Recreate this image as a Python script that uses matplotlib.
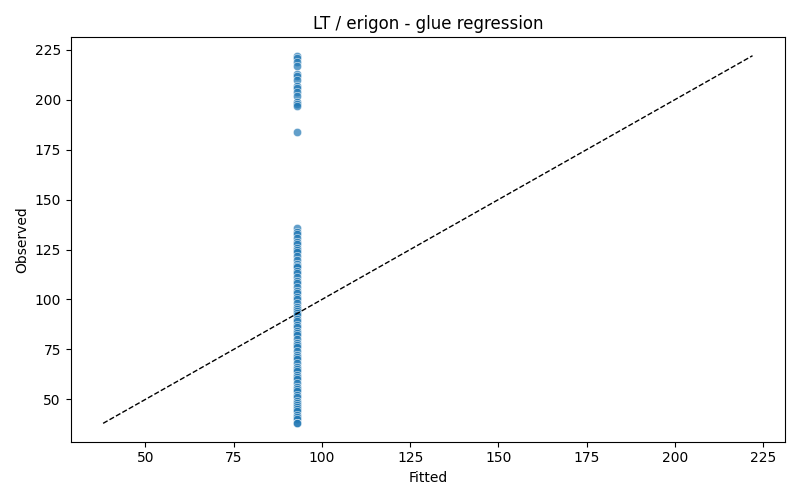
import matplotlib
matplotlib.use("Agg")
import matplotlib.pyplot as plt
import seaborn as sns

# observed values (y), all fitted at the same value
observed = [222, 221, 219, 217, 213, 212, 210, 207, 206, 204, 202, 199, 198, 197, 184,
            136, 134, 133, 131, 129, 128, 126, 125, 124, 122, 120, 118, 117, 116, 114,
            113, 111, 109, 108, 106, 104, 103, 101, 100, 98, 96, 95, 94, 93, 92, 90,
            89, 87, 86, 84, 83, 82, 80, 78, 77, 76, 74, 72, 71, 70, 68, 66, 65, 64,
            62, 61, 60, 58, 56, 55, 54, 52, 51, 49, 48, 47, 46, 45, 44, 42, 41, 40, 38, 38]
fitted_value = 93.0
fitted = [fitted_value for _ in observed]

line_lo = min(observed)
line_hi = max(observed)

fig, ax = plt.subplots(figsize=(8, 5), dpi=100)
sns.scatterplot(x=fitted, y=observed, alpha=0.7, ax=ax)
ax.plot([line_lo, line_hi], [line_lo, line_hi], "k--", lw=1)
ax.set_xlabel("Fitted")
ax.set_ylabel("Observed")
ax.set_title("LT / erigon - glue regression")
plt.tight_layout()
plt.savefig("out.png")
